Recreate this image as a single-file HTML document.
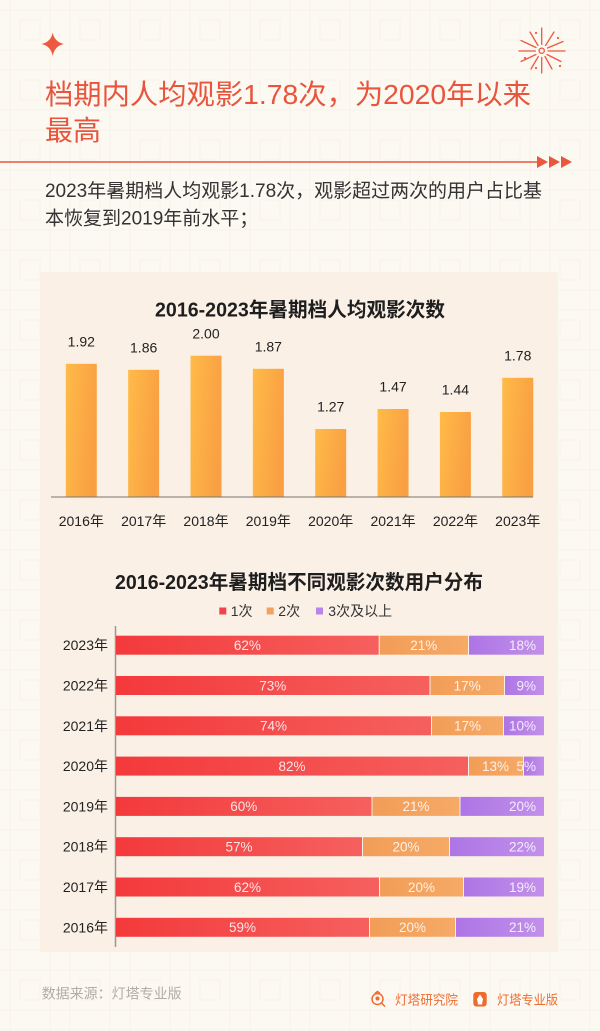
<!DOCTYPE html>
<html><head><meta charset="utf-8"><style>
html,body{margin:0;padding:0;background:#fcf8f2;}
svg{display:block;}
text{font-family:"Liberation Sans","Noto Sans CJK SC",sans-serif;}
</style></head><body>
<svg width="600" height="1031" viewBox="0 0 600 1031" xmlns="http://www.w3.org/2000/svg">
<defs>
<pattern id="lat" x="0" y="0" width="60" height="60" patternUnits="userSpaceOnUse">
<rect width="60" height="60" fill="#fcf8f2"/>
<path d="M0 10H60M0 50H60M10 0V60M50 0V60M20 20H40V40H20Z" fill="none" stroke="#f9f3eb" stroke-width="1"/>
</pattern>
<linearGradient id="gy" x1="0" y1="0" x2="1" y2="0.3">
<stop offset="0" stop-color="#ffbb48"/><stop offset="1" stop-color="#f9a043"/>
</linearGradient>
<linearGradient id="gr" x1="0" y1="0" x2="1" y2="0">
<stop offset="0" stop-color="#f4393b"/><stop offset="1" stop-color="#f5605e"/>
</linearGradient>
<linearGradient id="go" x1="0" y1="0" x2="1" y2="0">
<stop offset="0" stop-color="#f29d58"/><stop offset="1" stop-color="#f5aa66"/>
</linearGradient>
<linearGradient id="gp" x1="0" y1="0" x2="1" y2="0">
<stop offset="0" stop-color="#ad75e5"/><stop offset="1" stop-color="#c290ea"/>
</linearGradient>
</defs>
<rect width="600" height="1031" fill="url(#lat)"/>

<!-- star -->
<path d="M52.7 32.5 Q54.5 42 64 44 Q54.5 46 52.7 56 Q50.9 46 41.5 44 Q50.9 42 52.7 32.5Z" fill="#ec5a3f"/>

<!-- firework -->
<g stroke="#ec5a3f" stroke-width="1.3" stroke-linecap="round" fill="none">
<circle cx="541.7" cy="50.7" r="2.6"/>
<line x1="541.7" y1="44.5" x2="541.7" y2="28"/>
<line x1="545.5" y1="45.5" x2="554" y2="32"/>
<line x1="547.5" y1="48" x2="563" y2="41.5"/>
<line x1="548" y1="51" x2="565" y2="51"/>
<line x1="547" y1="54.5" x2="561" y2="61.5"/>
<line x1="545" y1="56.5" x2="552" y2="69"/>
<line x1="541.7" y1="57.5" x2="541.7" y2="73"/>
<line x1="538.3" y1="56.5" x2="531" y2="69"/>
<line x1="536" y1="54.5" x2="521" y2="61.5"/>
<line x1="535.4" y1="51" x2="519" y2="51"/>
<line x1="536" y1="47.5" x2="521" y2="40.5"/>
<line x1="538" y1="45.5" x2="530" y2="32"/>
</g>
<g fill="#ec5a3f">
<circle cx="536" cy="33" r="1.1"/><circle cx="558" cy="38" r="1.1"/><circle cx="525" cy="58" r="1.1"/><circle cx="560" cy="66" r="1.1"/><circle cx="536" cy="68" r="1.1"/>
</g>

<!-- title -->
<text x="45" y="104" font-size="28" font-weight="400" fill="#e8553c" textLength="486" lengthAdjust="spacingAndGlyphs">档期内人均观影1.78次，为2020年以来</text>
<text x="45" y="140" font-size="28" font-weight="400" fill="#e8553c">最高</text>

<!-- divider -->
<line x1="0" y1="162" x2="537" y2="162" stroke="#e9573d" stroke-width="1.5"/>
<path d="M537 156L548 162L537 168Z M549 156L560 162L549 168Z M561 156L572 162L561 168Z" fill="#e9573d"/>

<!-- subtitle -->
<text x="45" y="197" font-size="19" fill="#333" textLength="497" lengthAdjust="spacingAndGlyphs">2023年暑期档人均观影1.78次，观影超过两次的用户占比基</text>
<text x="45" y="224.5" font-size="19" fill="#333">本恢复到2019年前水平；</text>

<!-- card -->
<rect x="40" y="272" width="518" height="680" fill="#fbf0e6"/>

<!-- chart 1 -->
<text x="300" y="316.5" font-size="20" font-weight="bold" fill="#1e1e1e" text-anchor="middle" textLength="290" lengthAdjust="spacingAndGlyphs">2016-2023年暑期档人均观影次数</text>
<g fill="url(#gy)">
<rect x="65.8" y="363.8" width="31" height="133.2"/>
<rect x="128.15" y="369.8" width="31" height="127.2"/>
<rect x="190.5" y="355.7" width="31" height="141.3"/>
<rect x="252.85" y="368.8" width="31" height="128.2"/>
<rect x="315.2" y="429" width="31" height="68"/>
<rect x="377.55" y="409" width="31" height="88"/>
<rect x="439.9" y="412" width="31" height="85"/>
<rect x="502.25" y="377.8" width="31" height="119.2"/>
</g>
<line x1="51" y1="497" x2="533" y2="497" stroke="#7a7672" stroke-width="1"/>
<g font-size="14" fill="#222" text-anchor="middle">
<text x="81.3" y="346.5">1.92</text>
<text x="143.65" y="352.5">1.86</text>
<text x="206" y="338.4">2.00</text>
<text x="268.35" y="351.5">1.87</text>
<text x="330.7" y="411.7">1.27</text>
<text x="393.05" y="391.7">1.47</text>
<text x="455.4" y="394.7">1.44</text>
<text x="517.75" y="360.5">1.78</text>
</g>
<g font-size="14" fill="#222" text-anchor="middle">
<text x="81.3" y="526">2016年</text>
<text x="143.65" y="526">2017年</text>
<text x="206" y="526">2018年</text>
<text x="268.35" y="526">2019年</text>
<text x="330.7" y="526">2020年</text>
<text x="393.05" y="526">2021年</text>
<text x="455.4" y="526">2022年</text>
<text x="517.75" y="526">2023年</text>
</g>

<!-- chart 2 -->
<text x="299" y="589" font-size="20" font-weight="bold" fill="#1e1e1e" text-anchor="middle" textLength="368" lengthAdjust="spacingAndGlyphs">2016-2023年暑期档不同观影次数用户分布</text>
<rect x="219.3" y="607.5" width="7" height="7" fill="#f0434a"/>
<text x="230.7" y="616" font-size="14" fill="#333">1次</text>
<rect x="266.7" y="607.5" width="7" height="7" fill="#f2a15f"/>
<text x="278.3" y="616" font-size="14" fill="#333">2次</text>
<rect x="316" y="607.5" width="7" height="7" fill="#b985e8"/>
<text x="328.3" y="616" font-size="14" fill="#333">3次及以上</text>

<line x1="115.5" y1="626" x2="115.5" y2="947" stroke="#9a9692" stroke-width="1.5"/>

<g id="rows">
<rect x="116" y="635.7" width="262.7" height="19" fill="url(#gr)"/>
<rect x="379.7" y="635.7" width="88.3" height="19" fill="url(#go)"/>
<rect x="469" y="635.7" width="75" height="19" fill="url(#gp)"/>
<rect x="116" y="676" width="313.5" height="19" fill="url(#gr)"/>
<rect x="430.5" y="676" width="73.5" height="19" fill="url(#go)"/>
<rect x="505" y="676" width="39" height="19" fill="url(#gp)"/>
<rect x="116" y="716.3" width="315" height="19" fill="url(#gr)"/>
<rect x="432" y="716.3" width="71" height="19" fill="url(#go)"/>
<rect x="504" y="716.3" width="40" height="19" fill="url(#gp)"/>
<rect x="116" y="756.6" width="352" height="19" fill="url(#gr)"/>
<rect x="469" y="756.6" width="54" height="19" fill="url(#go)"/>
<rect x="524" y="756.6" width="20" height="19" fill="url(#gp)"/>
<rect x="116" y="796.9" width="255.5" height="19" fill="url(#gr)"/>
<rect x="372.5" y="796.9" width="87" height="19" fill="url(#go)"/>
<rect x="460.5" y="796.9" width="83.5" height="19" fill="url(#gp)"/>
<rect x="116" y="837.2" width="246" height="19" fill="url(#gr)"/>
<rect x="363" y="837.2" width="86" height="19" fill="url(#go)"/>
<rect x="450" y="837.2" width="94" height="19" fill="url(#gp)"/>
<rect x="116" y="877.5" width="263" height="19" fill="url(#gr)"/>
<rect x="380" y="877.5" width="83" height="19" fill="url(#go)"/>
<rect x="464" y="877.5" width="80" height="19" fill="url(#gp)"/>
<rect x="116" y="917.8" width="253" height="19" fill="url(#gr)"/>
<rect x="370" y="917.8" width="85" height="19" fill="url(#go)"/>
<rect x="456" y="917.8" width="88" height="19" fill="url(#gp)"/>
</g>

<g font-size="14" fill="#222" text-anchor="end">
<text x="108" y="650.2">2023年</text>
<text x="108" y="690.5">2022年</text>
<text x="108" y="730.8">2021年</text>
<text x="108" y="771.1">2020年</text>
<text x="108" y="811.4">2019年</text>
<text x="108" y="851.7">2018年</text>
<text x="108" y="892">2017年</text>
<text x="108" y="932.3">2016年</text>
</g>

<g font-size="13.5" fill="#ffffff" fill-opacity="0.85" text-anchor="middle">
<text x="247.4" y="650">62%</text><text x="423.8" y="650">21%</text>
<text x="272.8" y="690.3">73%</text><text x="467.2" y="690.3">17%</text>
<text x="273.5" y="730.6">74%</text><text x="467.5" y="730.6">17%</text>
<text x="292" y="770.9">82%</text><text x="495.5" y="770.9">13%</text>
<text x="243.8" y="811.2">60%</text><text x="416" y="811.2">21%</text>
<text x="239" y="851.5">57%</text><text x="406" y="851.5">20%</text>
<text x="247.5" y="891.8">62%</text><text x="421.5" y="891.8">20%</text>
<text x="242.5" y="932.1">59%</text><text x="412.5" y="932.1">20%</text>
</g>
<g font-size="13.5" fill="#ffffff" fill-opacity="0.85" text-anchor="end">
<text x="536" y="650">18%</text>
<text x="536" y="690.3">9%</text>
<text x="536" y="730.6">10%</text>
<text x="536" y="770.9">5%</text>
<text x="536" y="811.2">20%</text>
<text x="536" y="851.5">22%</text>
<text x="536" y="891.8">19%</text>
<text x="536" y="932.1">21%</text>
</g>

<!-- footer -->
<text x="41.7" y="998.5" font-size="14" fill="#b3aca6" textLength="140" lengthAdjust="spacingAndGlyphs">数据来源：灯塔专业版</text>

<g stroke="#ef6c30" stroke-width="1.5" fill="none">
<circle cx="377.5" cy="999" r="5.5"/>
<line x1="381.5" y1="1003" x2="385" y2="1006.5"/>
<path d="M375 993.5 L377.5 991.5 L380 993.5"/>
</g>
<circle cx="377.5" cy="998.5" r="2" fill="#ef6c30"/>
<text x="395" y="1004.5" font-size="13" fill="#ef6c30" textLength="63" lengthAdjust="spacingAndGlyphs">灯塔研究院</text>
<rect x="473.3" y="992" width="13.4" height="14.5" rx="3" fill="#f06a2c"/>
<path d="M480 994.5 L483 999 L482 1004.5 L478 1004.5 L477 999Z" fill="#fff"/>
<text x="497" y="1004.5" font-size="13" fill="#ef6c30" textLength="61" lengthAdjust="spacingAndGlyphs">灯塔专业版</text>
</svg>
</body></html>
